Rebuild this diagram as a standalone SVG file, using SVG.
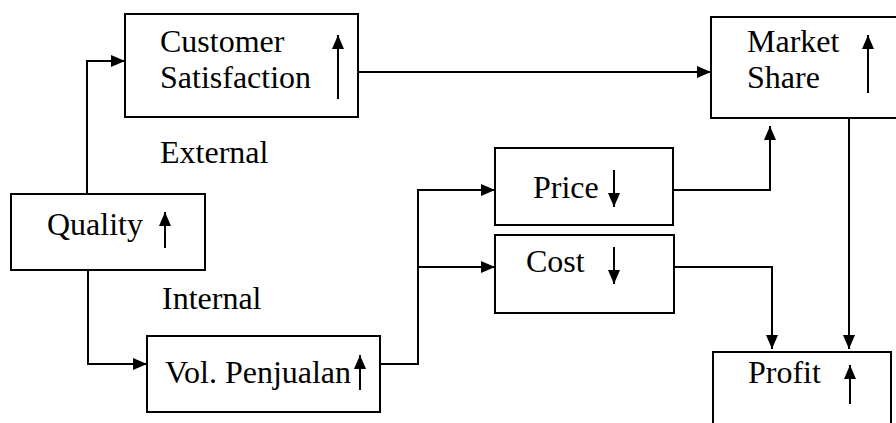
<svg xmlns="http://www.w3.org/2000/svg" width="896" height="423" viewBox="0 0 896 423">
<defs>
<marker id="ah" markerUnits="userSpaceOnUse" markerWidth="14" markerHeight="12" viewBox="0 0 14 12" refX="14" refY="6" orient="auto">
<path d="M0,0 L14,6 L0,12 Z" fill="#000"/>
</marker>
<style>
.box{fill:#fff;stroke:#000;stroke-width:2}
.ln{fill:none;stroke:#000;stroke-width:2}
.t{font-family:"Liberation Serif","Times New Roman",serif;font-size:32px;fill:#000}
</style>
</defs>
<rect width="896" height="423" fill="#fff"/>
<g id="connectors">
<polyline class="ln" points="87,195 87,61 125,61" marker-end="url(#ah)"/>
<line class="ln" x1="358" y1="72" x2="711" y2="72" marker-end="url(#ah)"/>
<polyline class="ln" points="88,270 88,364 147,364" marker-end="url(#ah)"/>
<polyline class="ln" points="380,364 418,364 418,190 495,190" marker-end="url(#ah)"/>
<polyline class="ln" points="418,267 495,267" marker-end="url(#ah)"/>
<polyline class="ln" points="673,190 770,190 770,126" marker-end="url(#ah)"/>
<polyline class="ln" points="674,267 772,267 772,349" marker-end="url(#ah)"/>
<line class="ln" x1="849" y1="118" x2="849" y2="349" marker-end="url(#ah)"/>
</g>
<g id="customer-satisfaction">
<rect class="box" x="125" y="14" width="233" height="103"/>
<text class="t" x="160" y="52">Customer</text>
<text class="t" x="160" y="88">Satisfaction</text>
<line class="ln" x1="338" y1="99" x2="338" y2="35" marker-end="url(#ah)"/>
</g>
<g id="market-share">
<rect class="box" x="711" y="17" width="195" height="101"/>
<text class="t" x="747" y="52">Market</text>
<text class="t" x="747" y="88">Share</text>
<line class="ln" x1="868" y1="93" x2="868" y2="35" marker-end="url(#ah)"/>
</g>
<g id="quality">
<rect class="box" x="11" y="194" width="194" height="76"/>
<text class="t" x="47" y="235">Quality</text>
<line class="ln" x1="165" y1="248" x2="165" y2="212" marker-end="url(#ah)"/>
</g>
<g id="labels">
<text class="t" x="160" y="163">External</text>
<text class="t" x="162" y="309">Internal</text>
</g>
<g id="price">
<rect class="box" x="495" y="148" width="178" height="77"/>
<text class="t" x="533" y="198">Price</text>
<line class="ln" x1="614" y1="170" x2="614" y2="207" marker-end="url(#ah)"/>
</g>
<g id="cost">
<rect class="box" x="495" y="235" width="179" height="78"/>
<text class="t" x="526" y="272">Cost</text>
<line class="ln" x1="614" y1="247" x2="614" y2="284" marker-end="url(#ah)"/>
</g>
<g id="vol-penjualan">
<rect class="box" x="147" y="336" width="233" height="76"/>
<text class="t" x="165" y="383">Vol. Penjualan</text>
<line class="ln" x1="360" y1="390" x2="360" y2="355" marker-end="url(#ah)"/>
</g>
<g id="profit">
<rect class="box" x="713" y="352" width="178" height="90"/>
<text class="t" x="748" y="383">Profit</text>
<line class="ln" x1="850" y1="404" x2="850" y2="365" marker-end="url(#ah)"/>
</g>
</svg>
